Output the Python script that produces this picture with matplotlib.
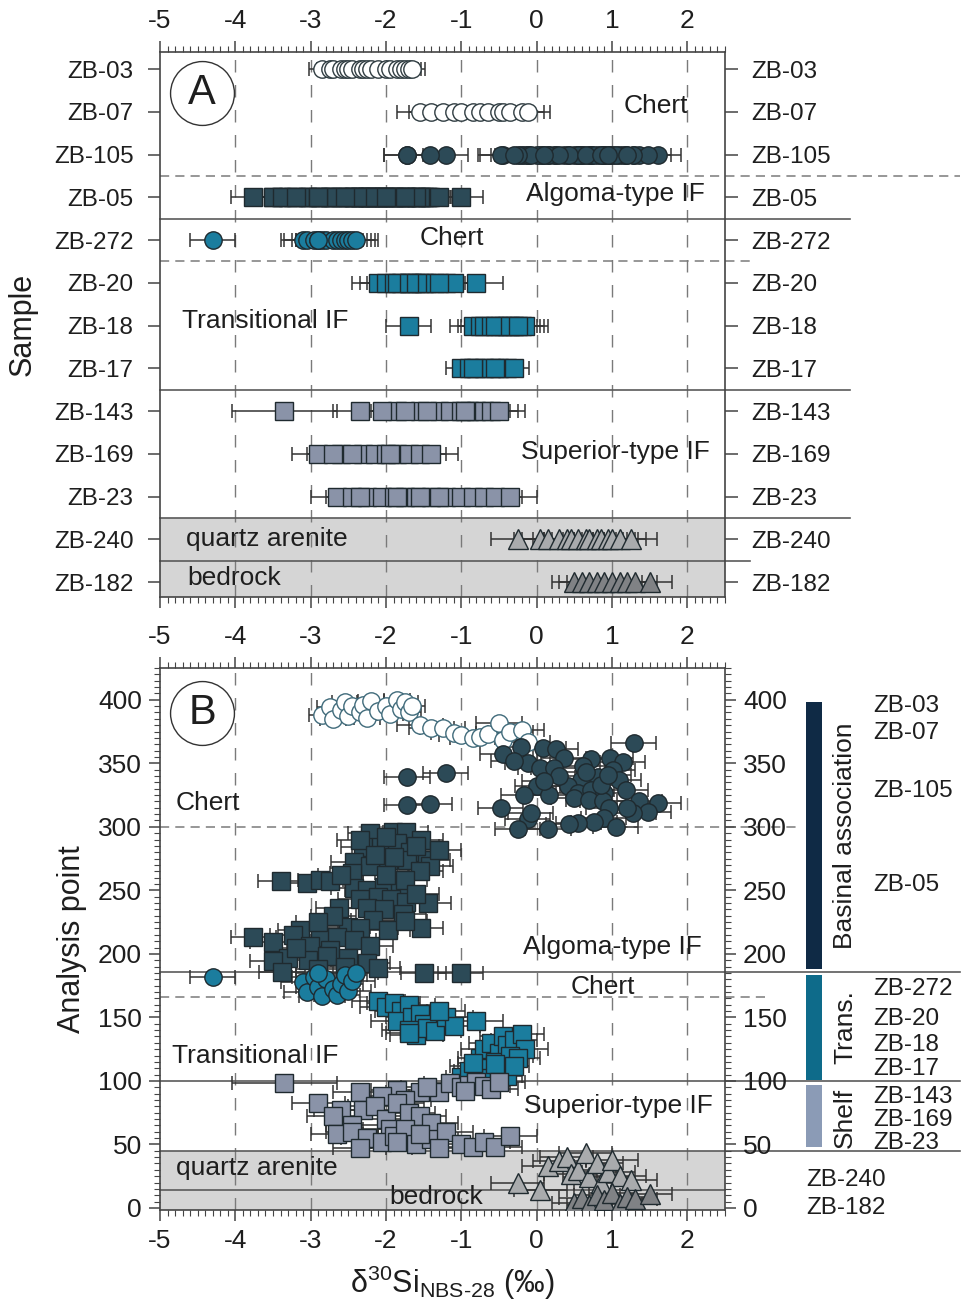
import matplotlib
matplotlib.use('Agg')
import matplotlib.pyplot as plt
from matplotlib.ticker import MultipleLocator
from matplotlib.transforms import blended_transform_factory
from matplotlib.patches import Rectangle

plt.rcParams['font.family'] = ['Liberation Sans', 'DejaVu Sans']
plt.rcParams['mathtext.fontset'] = 'custom'
plt.rcParams['mathtext.rm'] = 'Liberation Sans'
plt.rcParams['mathtext.it'] = 'Liberation Sans:italic'
plt.rcParams['mathtext.bf'] = 'Liberation Sans:bold'
plt.rcParams['axes.unicode_minus'] = False

# ---------------- data (delta30Si, analysis point) ----------------
samples = ['ZB-03', 'ZB-07', 'ZB-105', 'ZB-05', 'ZB-272', 'ZB-20', 'ZB-18',
           'ZB-17', 'ZB-143', 'ZB-169', 'ZB-23', 'ZB-240', 'ZB-182']

zb03_x = [-2.85, -2.75, -2.7, -2.6, -2.55, -2.5, -2.45, -2.35, -2.3, -2.25,
          -2.2, -2.1, -2.0, -1.95, -1.85, -1.8, -1.75, -1.7, -1.65]
zb03_y = [388, 394, 385, 392, 398, 387, 395, 390, 396, 386,
          399, 391, 395, 389, 400, 393, 398, 390, 395]

zb07_x = [-1.55, -1.4, -1.25, -1.1, -1.0, -0.85, -0.75, -0.65, -0.5, -0.45,
          -0.35, -0.2, -0.12]
zb07_y = [380, 378, 378, 374, 372, 370, 371, 373, 382, 368, 375, 376, 367]

zb105_x = [-1.72, -1.21, -1.72, -1.42,
           1.29, -0.45, -0.21, 0.09, 0.25, 0.36, -0.12, 0.05, 0.23, 0.72,
           0.61, 0.98, 1.14, 1.01, 0.59, 0.81, 1.09, 0.41, 0.01, -0.17,
           0.16, 0.55, 0.72, 0.89, 1.18, 0.49, 0.69, 0.88, 1.36, 1.61,
           1.48, 1.28, 0.96, 0.89, 0.76, 1.05, 0.55, 0.43, 0.15, -0.12,
           -0.08, -0.25, -0.48, 0.3, 0.65, 0.85, 1.2, -0.3, 0.1, 0.95]
zb105_y = [339, 342, 317, 318,
           366, 357, 363, 362, 361, 354, 350, 346, 346, 353,
           348, 354, 351, 345, 337, 339, 337, 332, 332, 325,
           325, 327, 329, 327, 329, 323, 321, 320, 320, 319,
           312, 311, 315, 307, 304, 300, 303, 302, 298, 306,
           311, 298, 315, 340, 343, 333, 315, 352, 336, 341]

zb05_x = [-2.21, -1.91, -1.74, -1.54, -2.30, -2.07, -1.85, -1.68, -1.45, -1.72,
          -1.98, -2.43, -2.21, -1.41, -2.45, -3.40, -3.05, -2.87, -2.74, -2.43,
          -2.25, -2.03, -1.81, -2.34, -2.11, -1.94, -1.74, -1.44, -2.25, -2.63,
          -2.03, -1.77, -2.17, -2.51, -2.34, -1.54, -1.98, -3.14, -3.76, -3.50,
          -3.24, -2.87, -2.65, -2.43, -3.01, -2.74, -2.21, -3.30, -3.50, -3.03,
          -2.78, -2.51, -2.25, -2.11, -3.38, -1.50, -1.01,
          -2.35, -2.0, -1.6, -1.3, -2.15, -1.9, -1.55, -2.6, -2.0, -1.75,
          -1.6, -2.7, -2.9, -3.2, -2.55, -2.9, -1.75]
zb05_y = [295, 296, 296, 290, 284, 284, 287, 280, 274, 274,
          274, 272, 269, 269, 264, 257, 256, 258, 257, 252,
          250, 253, 249, 243, 245, 243, 241, 240, 236, 236,
          235, 231, 227, 221, 220, 220, 219, 219, 213, 209,
          215, 213, 213, 211, 206, 203, 206, 197, 194, 195,
          198, 197, 193, 189, 186, 185, 185,
          290, 292, 285, 282, 278, 276, 265, 262, 262, 258,
          247, 230, 225, 205, 190, 188, 226]

zb272_x = [-4.3, -3.1, -3.05, -2.95, -2.9, -2.85, -2.8, -2.7, -2.65, -2.6,
           -2.55, -2.5, -2.45, -2.4, -2.9]
zb272_y = [182, 178, 170, 182, 174, 167, 180, 172, 168, 176,
           183, 171, 179, 185, 185]

zb20_x = [-2.1, -2.0, -1.9, -1.8, -1.7, -1.85, -1.65, -1.55, -1.5, -1.7,
          -1.6, -1.45, -1.35, -1.2, -1.1, -0.8, -1.3]
zb20_y = [163, 158, 161, 155, 160, 147, 150, 153, 145, 140,
          136, 142, 139, 150, 143, 147, 155]

zb18_x = [-1.7, -0.85, -0.75, -0.7, -0.6, -0.5, -0.45, -0.4, -0.3, -0.2,
          -0.15, -0.55, -0.35, -0.25]
zb18_y = [138, 112, 118, 125, 130, 122, 135, 128, 132, 137,
          125, 115, 120, 118]

zb17_x = [-1.0, -0.9, -0.8, -0.7, -0.6, -0.5, -0.4, -0.3, -0.85, -0.55]
zb17_y = [103, 108, 105, 110, 102, 107, 104, 112, 114, 113]

zb143_x = [-3.35, -2.35, -1.85, -1.55, -1.3, -1.15, -1.0, -0.9, -0.8, -0.7,
           -0.6, -0.5, -2.05, -1.75, -1.45, -0.95]
zb143_y = [98, 91, 93, 91, 91, 98, 95, 97, 99, 96, 94, 99, 88, 85, 95, 92]

zb169_x = [-2.9, -2.6, -2.3, -2.15, -2.0, -1.85, -1.7, -1.55, -1.4,
           -2.45, -2.7, -1.95]
zb169_y = [83, 77, 77, 80, 70, 83, 75, 72, 67, 65, 72, 62]

zb23_x = [-2.65, -2.45, -2.25, -2.05, -1.9, -1.75, -1.6, -1.4, -1.2, -1.0,
          -0.85, -0.7, -0.55, -0.35, -2.35, -1.85, -1.3, -1.55]
zb23_y = [58, 60, 55, 52, 57, 62, 50, 54, 60, 50, 48, 52, 48, 57,
          47, 52, 47, 58]

zb240_x = [-0.25, 0.05, 0.15, 0.3, 0.4, 0.45, 0.55, 0.65, 0.7, 0.8,
           0.85, 0.95, 1.0, 1.1, 1.25]
zb240_y = [20, 14, 33, 37, 40, 27, 30, 43, 24, 35, 20, 28, 38, 25, 22]

zb182_x = [0.5, 0.6, 0.7, 0.8, 0.9, 1.0, 1.1, 1.2, 1.3, 1.5]
zb182_y = [4, 8, 2, 10, 6, 12, 3, 9, 7, 11]

# 2 s.d. uncertainty per sample
sample_err = [0.17, 0.3, 0.3, 0.3, 0.3, 0.35, 0.3, 0.2, 0.35, 0.35, 0.35, 0.35, 0.3]

# lithology boundaries
bound_rows_dashed = [2.5, 4.5]
bound_rows_solid = [3.5, 7.5, 10.5, 11.5]
bound_pts_dashed = [300, 166]
bound_pts_solid = [186, 100, 45, 14]

# sidebar groups
groups = ['Basinal association', 'Trans.', 'Shelf']
group_lo = [188, 101, 48]
group_hi = [398, 183, 97]
group_label_y = [293, 142, 71]
right_label_y = [395, 374, 328, 254, 172, 149, 128, 109, 87, 69, 51, 22, 0]

all_x = [zb03_x, zb07_x, zb105_x, zb05_x, zb272_x, zb20_x, zb18_x, zb17_x,
         zb143_x, zb169_x, zb23_x, zb240_x, zb182_x]
all_y = [zb03_y, zb07_y, zb105_y, zb05_y, zb272_y, zb20_y, zb18_y, zb17_y,
         zb143_y, zb169_y, zb23_y, zb240_y, zb182_y]

# ---------------- styles ----------------
C_OPEN_EDGE_A = '#2e3b40'
C_OPEN_EDGE_B = '#3f6a7a'
C_DARK = '#2c4a57'
C_TEAL = '#1b7d9e'
C_SUP = '#8a93a8'
C_QA = '#a9abad'
C_BR = '#808285'
styles = [
    ('o', 'white', 'open'), ('o', 'white', 'open'), ('o', C_DARK, None),
    ('s', C_DARK, None), ('o', C_TEAL, None), ('s', C_TEAL, None),
    ('s', C_TEAL, None), ('s', C_TEAL, None), ('s', C_SUP, None),
    ('s', C_SUP, None), ('s', C_SUP, None), ('^', C_QA, None), ('^', C_BR, None)]

W, H = 961, 1312
fig = plt.figure(figsize=(W / 100, H / 100), dpi=100)


def ax_at(l, t, r, b):
    return fig.add_axes([l / W, 1 - b / H, (r - l) / W, (b - t) / H])


axA = ax_at(160, 52, 725, 597)
axB = ax_at(160, 668, 725, 1210)

TXT = '#1e1e1e'
GRID = '#7a7a7a'
LINE = '#5a5a5a'
ECOL = '#333333'

for ax in (axA, axB):
    for v in range(-4, 3):
        ax.axvline(v, color=GRID, lw=1.0, ls=(0, (9, 9)), zorder=0.5)
    for sp in ax.spines.values():
        sp.set_color('#444444')
        sp.set_linewidth(1.2)

# bands
axA.axhspan(10.5, 12.6, color='#d5d5d5', zorder=0)
axB.axhspan(-5, 45, color='#d5d5d5', zorder=0)

blendA = blended_transform_factory(fig.transFigure, axA.transData)
blendB = blended_transform_factory(fig.transFigure, axB.transData)

A_ext_dashed = [960, 750]
A_ext_solid = [850, 850, 850, 750]
for r, xe in zip(bound_rows_dashed, A_ext_dashed):
    axA.plot([160 / W, xe / W], [r, r], transform=blendA, clip_on=False,
             color=GRID, lw=1.1, ls=(0, (6, 4)), zorder=1)
for r, xe in zip(bound_rows_solid, A_ext_solid):
    axA.plot([160 / W, xe / W], [r, r], transform=blendA, clip_on=False,
             color=LINE, lw=1.2, zorder=1)

B_ext_dashed = [800, 765]
B_ext_solid = [960, 960, 960, 725]
for r, xe in zip(bound_pts_dashed, B_ext_dashed):
    axB.plot([160 / W, xe / W], [r, r], transform=blendB, clip_on=False,
             color=GRID, lw=1.1, ls=(0, (6, 4)), zorder=1)
for r, xe in zip(bound_pts_solid, B_ext_solid):
    axB.plot([160 / W, xe / W], [r, r], transform=blendB, clip_on=False,
             color=LINE, lw=1.2, zorder=1)

# ---------------- panel A ----------------
for i, (xs, err, st) in enumerate(zip(all_x, sample_err, styles)):
    mk, fc, kind = st
    ec = C_OPEN_EDGE_A if kind == 'open' else '#1f2a2f'
    rows = [i] * len(xs)
    errs = [err] * len(xs)
    if samples[i] == 'ZB-143':
        errs[0] = 0.7
    axA.errorbar(xs, rows, xerr=errs, fmt='none', ecolor=ECOL, elinewidth=1.1,
                 capsize=5, capthick=1.1, zorder=2)
    axA.plot(xs, rows, ls='none', marker=mk, ms=15 if mk == '^' else 12.5,
             mfc=fc, mec=ec, mew=1.0, zorder=3)

axA.set_xlim(-5, 2.5)
axA.set_ylim(12.35, -0.4)
axA.set_yticks(range(len(samples)))
axA.set_yticklabels(samples)
axA.xaxis.set_major_locator(MultipleLocator(1))
axA.xaxis.set_minor_locator(MultipleLocator(0.1))
axA.tick_params(axis='x', which='both', top=True, bottom=True, labeltop=True,
                labelbottom=False, direction='out', colors='#444444',
                labelcolor=TXT, labelsize=19, pad=6)
axA.tick_params(axis='x', which='major', length=8, width=1.1)
axA.tick_params(axis='x', which='minor', length=4, width=0.8)
axA.tick_params(axis='y', which='both', left=True, right=True, labelleft=True,
                labelright=True, direction='out', length=9, width=1.1,
                colors='#444444', labelcolor=TXT, labelsize=17.5, pad=10)
axA.set_ylabel('Sample', fontsize=22, color=TXT, labelpad=12)

# circle label A
axA.plot([-4.44], [0.56], ls='none', marker='o', ms=46, mfc='white',
         mec='#333333', mew=1.0, zorder=4)
axA.text(-4.44, 0.56, 'A', fontsize=30, ha='center', va='center', color=TXT,
         zorder=5)

a_text = [('Chert', 1.58, 0.86), ('Algoma-type IF', 1.05, 2.92),
          ('Chert', -1.12, 3.95), ('Transitional IF', -3.6, 5.89),
          ('Superior-type IF', 1.05, 8.95), ('quartz arenite', -3.58, 11.0),
          ('bedrock', -4.02, 11.9)]
for t, x, y in a_text:
    axA.text(x, y, t, fontsize=19, ha='center', va='center', color=TXT, zorder=4)

# ---------------- panel B ----------------
for i, (xs, ys, err, st) in enumerate(zip(all_x, all_y, sample_err, styles)):
    mk, fc, kind = st
    ec = C_OPEN_EDGE_B if kind == 'open' else '#1f2a2f'
    errs = [err] * len(xs)
    if samples[i] == 'ZB-143':
        errs[0] = 0.7
    axB.errorbar(xs, ys, xerr=errs, fmt='none', ecolor=ECOL, elinewidth=1.1,
                 capsize=5, capthick=1.1, zorder=2 + i * 0.01)
    axB.plot(xs, ys, ls='none', marker=mk, ms=15 if mk == '^' else 12.5,
             mfc=fc, mec=ec, mew=1.0, zorder=3 + i * 0.01)

axB.set_xlim(-5, 2.5)
axB.set_ylim(-1.6, 425)
axB.xaxis.set_major_locator(MultipleLocator(1))
axB.xaxis.set_minor_locator(MultipleLocator(0.1))
axB.yaxis.set_minor_locator(MultipleLocator(5))
axB.set_yticks(range(0, 401, 50))
axB.tick_params(axis='x', which='both', top=True, bottom=True, labeltop=True,
                labelbottom=True, direction='out', colors='#444444',
                labelcolor=TXT, labelsize=19, pad=6)
axB.tick_params(axis='x', which='major', length=8, width=1.1)
axB.tick_params(axis='x', which='minor', length=4, width=0.8)
axB.tick_params(axis='y', which='both', left=True, right=True, labelleft=True,
                labelright=True, direction='out', colors='#444444',
                labelcolor=TXT, labelsize=19, pad=5)
axB.tick_params(axis='y', which='major', length=8, width=1.1)
axB.tick_params(axis='y', which='minor', length=4, width=0.8)
axB.set_ylabel('Analysis point', fontsize=22, color=TXT, labelpad=8)

axB.plot([-4.44], [389.8], ls='none', marker='o', ms=46, mfc='white',
         mec='#333333', mew=1.0, zorder=4)
axB.text(-4.44, 389.8, 'B', fontsize=30, ha='center', va='center', color=TXT,
         zorder=5)

b_text = [('Chert', -4.36, 319), ('Algoma-type IF', 1.01, 205.5),
          ('Chert', 0.88, 174), ('Transitional IF', -3.74, 119.7),
          ('Superior-type IF', 1.08, 80), ('quartz arenite', -3.72, 31.5),
          ('bedrock', -1.34, 8.7)]
for t, x, y in b_text:
    axB.text(x, y, t, fontsize=19, ha='center', va='center', color=TXT, zorder=4)

# sidebar
group_colors = ['#0f2a45', '#0e6b8a', '#8b9bb6']
for g, lo, hi, c, ly in zip(groups, group_lo, group_hi, group_colors, group_label_y):
    fig.add_artist(Rectangle((806 / W, lo), 16 / W, hi - lo, transform=blendB,
                             facecolor=c, edgecolor='none', clip_on=False))
    fig.text(845 / W, ly, g, transform=blendB, rotation=90, fontsize=19,
             ha='center', va='center', color=TXT)

for s, ly in zip(samples, right_label_y):
    xl = 806 if s in ('ZB-240', 'ZB-182') else 873
    fig.text(xl / W, ly, s, transform=blendB, fontsize=17.5, ha='left',
             va='center', color=TXT)

fig.text(452 / W, 1 - 1283 / H,
         'δ$^{30}$Si$_{\\mathrm{NBS\u201028}}$ (‰)', fontsize=22,
         ha='center', va='center', color=TXT)

fig.savefig('out.png', dpi=100, facecolor='white')
